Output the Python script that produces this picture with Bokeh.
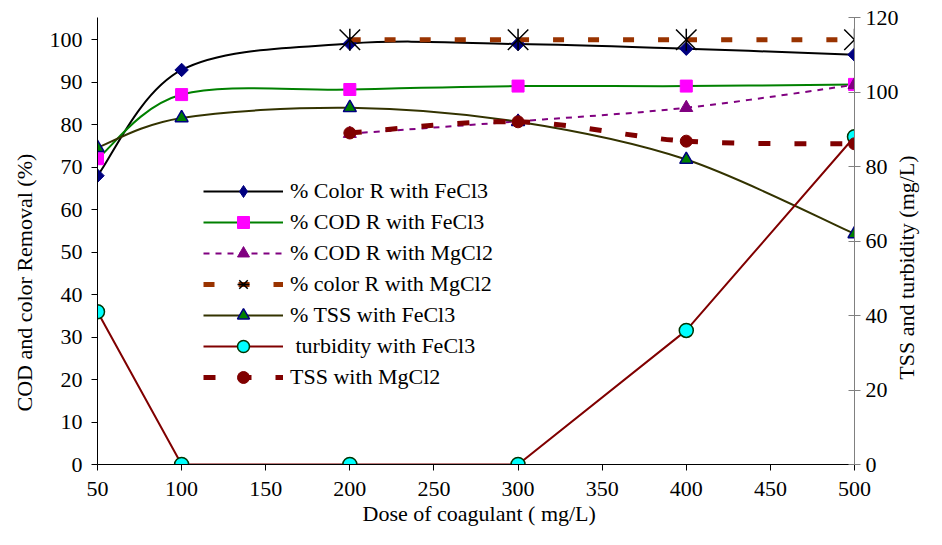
import numpy as np
from bokeh.plotting import figure
from bokeh.models import (Range1d, LinearAxis, FixedTicker, Legend, LegendItem,
                          Title, Label, ColumnDataSource)
from bokeh.embed import file_html
from bokeh.resources import INLINE

# ---------------- data ----------------
dose = [50, 100, 200, 300, 400, 500]
color_r_fecl3 = [68.0, 92.9, 99.1, 99.0, 97.9, 96.5]
cod_r_fecl3 = [72.0, 87.1, 88.3, 89.1, 89.1, 89.5]
tss_pct_fecl3 = [74.6, 81.6, 84.0, 80.7, 71.8, 54.3]
turbidity_fecl3 = [41.0, 0.0, 0.0, 0.0, 36.0, 88.0]          # right axis

dose_mg = [200, 300, 400, 500]
cod_r_mgcl2 = [77.9, 80.8, 84.0, 89.4]
color_r_mgcl2 = [100.0, 100.0, 100.0, 100.0]
tss_mgcl2 = [89.0, 92.0, 86.8, 86.1]                           # right axis

x_ticks = [50, 100, 150, 200, 250, 300, 350, 400, 450, 500]
left_ticks = [0, 10, 20, 30, 40, 50, 60, 70, 80, 90, 100]
right_ticks = [0, 20, 40, 60, 80, 100, 120]

labels = ["% Color R with FeCl3", "% COD R with FeCl3", "% COD R with MgCl2",
          "% color R with MgCl2", "% TSS with FeCl3", " turbidity with FeCl3",
          "TSS with MgCl2"]
x_title = "Dose of coagulant ( mg/L)"
left_title = "COD and color  Removal (%)"
right_title = "TSS and turbidity (mg/L)"

FONT = "'Liberation Serif', 'Times New Roman', serif"
FS = "22px"


def smooth(xs, ys):
    """Bezier segments through the data points (spreadsheet-style smoothing)."""
    n = len(xs)
    P = list(zip(xs, ys))
    d = {k: [] for k in ("x0", "y0", "x1", "y1", "cx0", "cy0", "cx1", "cy1")}
    for i in range(n - 1):
        pm = P[i - 1] if i > 0 else P[i]
        p0, p1 = P[i], P[i + 1]
        p2 = P[i + 2] if i + 2 < n else P[i + 1]
        d["x0"].append(p0[0]); d["y0"].append(p0[1])
        d["x1"].append(p1[0]); d["y1"].append(p1[1])
        d["cx0"].append(p0[0] + (p1[0] - pm[0]) / 6.0)
        d["cy0"].append(p0[1] + (p1[1] - pm[1]) / 6.0)
        d["cx1"].append(p1[0] - (p2[0] - p0[0]) / 6.0)
        d["cy1"].append(p1[1] - (p2[1] - p0[1]) / 6.0)
    return ColumnDataSource(d)


p = figure(width=926, height=529, output_backend="svg", toolbar_location=None,
           x_range=Range1d(50, 500), y_range=Range1d(0, 105.25),
           min_border_left=97, min_border_right=72, min_border_top=17,
           min_border_bottom=65)
p.extra_y_ranges = {"right": Range1d(0, 120)}
p.xgrid.visible = False
p.ygrid.visible = False
p.outline_line_color = None
p.background_fill_color = "white"
p.border_fill_color = "white"

right_axis = LinearAxis(y_range_name="right")
p.add_layout(right_axis, "right")

for ax in (p.xaxis[0], p.yaxis[0], right_axis):
    ax.major_label_text_font = FONT
    ax.major_label_text_font_size = FS
    ax.major_label_text_color = "black"
    ax.minor_tick_line_color = None
    ax.major_tick_out = 6
    ax.major_tick_in = 0
    ax.axis_line_width = 1
    ax.major_tick_line_width = 1

p.xaxis[0].ticker = FixedTicker(ticks=x_ticks)
p.xaxis[0].major_label_standoff = 11
p.xaxis[0].axis_line_color = "black"
p.xaxis[0].major_tick_line_color = "black"

p.yaxis[0].ticker = FixedTicker(ticks=left_ticks)
p.yaxis[0].major_label_standoff = 9
p.yaxis[0].axis_line_color = "black"
p.yaxis[0].major_tick_line_color = "black"

right_axis.ticker = FixedTicker(ticks=right_ticks)
right_axis.major_label_standoff = 5
right_axis.major_tick_in = 6
right_axis.axis_line_color = "#808080"
right_axis.major_tick_line_color = "#808080"

items = []

# 1 % Color R with FeCl3
r1a = p.bezier("x0", "y0", "x1", "y1", "cx0", "cy0", "cx1", "cy1",
               source=smooth(dose, color_r_fecl3), line_color="black", line_width=2)
r1b = p.scatter(dose, color_r_fecl3, marker="square", angle=np.pi / 4, size=9.5,
                fill_color="#000080", line_color="#000080")
r1c = p.scatter(dose, color_r_fecl3, marker="diamond", size=11,
                fill_color="#000080", line_color="#000080")
items.append(LegendItem(label=labels[0], renderers=[r1a, r1c]))

# 2 % COD R with FeCl3
r2a = p.bezier("x0", "y0", "x1", "y1", "cx0", "cy0", "cx1", "cy1",
               source=smooth(dose, cod_r_fecl3), line_color="#008000", line_width=2)
r2b = p.scatter(dose, cod_r_fecl3, marker="square", size=12,
                fill_color="#FF00FF", line_color="#FF00FF")
items.append(LegendItem(label=labels[1], renderers=[r2a, r2b]))

# 3 % COD R with MgCl2
r3a = p.bezier("x0", "y0", "x1", "y1", "cx0", "cy0", "cx1", "cy1",
               source=smooth(dose_mg, cod_r_mgcl2), line_color="#800080", line_width=2,
               line_dash="6 6")
r3b = p.scatter(dose_mg, cod_r_mgcl2, marker="triangle", size=13,
                fill_color="#800080", line_color="#800080")
items.append(LegendItem(label=labels[2], renderers=[r3a, r3b]))

# 4 % color R with MgCl2
r4a = p.bezier("x0", "y0", "x1", "y1", "cx0", "cy0", "cx1", "cy1",
               source=smooth(dose_mg, color_r_mgcl2), line_color="#993300", line_width=5,
               line_dash="11 24")
r4b = p.scatter(dose_mg, color_r_mgcl2, marker="x", size=29,
                line_color="black", line_width=1.5)
r4c = p.scatter(dose_mg, color_r_mgcl2, marker="dash", angle=np.pi / 2, size=22,
                line_color="black", line_width=1.5)
items.append(LegendItem(label=labels[3], renderers=[r4a, r4b, r4c]))

# 5 % TSS with FeCl3
r5a = p.bezier("x0", "y0", "x1", "y1", "cx0", "cy0", "cx1", "cy1",
               source=smooth(dose, tss_pct_fecl3), line_color="#333300", line_width=2)
r5b = p.scatter(dose, tss_pct_fecl3, marker="triangle", size=13,
                fill_color="#008000", line_color="#000080", line_width=1.5)
items.append(LegendItem(label=labels[4], renderers=[r5a, r5b]))

# 6 turbidity with FeCl3 (right axis)
r6a = p.line(dose, turbidity_fecl3, y_range_name="right", line_color="#800000",
             line_width=2)
r6b = p.scatter(dose, turbidity_fecl3, y_range_name="right", marker="circle", size=14,
                fill_color="#00FFFF", line_color="#003300", line_width=1.5)
items.append(LegendItem(label=labels[5], renderers=[r6a, r6b]))

# 7 TSS with MgCl2 (right axis)
r7a = p.bezier("x0", "y0", "x1", "y1", "cx0", "cy0", "cx1", "cy1",
               source=smooth(dose_mg, tss_mgcl2), y_range_name="right",
               line_color="#800000", line_width=5, line_dash="12 24")
r7b = p.scatter(dose_mg, tss_mgcl2, y_range_name="right", marker="circle", size=12,
                fill_color="#800000", line_color="#800000")
items.append(LegendItem(label=labels[6], renderers=[r7a, r7b]))

legend = Legend(items=items, location=(106, 72), padding=0, spacing=1,
                glyph_width=80, glyph_height=30, label_standoff=7,
                border_line_color=None, background_fill_alpha=0,
                label_text_font=FONT, label_text_font_size=FS,
                label_text_color="black")
p.add_layout(legend)

title_style = dict(text_font=FONT, text_font_size=FS, text_font_style="normal",
                   text_color="black", align="left")
p.add_layout(Title(text=left_title, offset=53, standoff=19, **title_style), "left")
p.add_layout(Title(text=x_title, offset=265, standoff=0, **title_style), "below")
p.add_layout(Label(x=5, y=197, x_units="screen", y_units="screen", text=right_title,
                   angle=np.pi / 2, text_align="center", text_baseline="middle",
                   text_font=FONT, text_font_size=FS, text_color="black"), "right")

open("out.html", "w").write(file_html(p, INLINE))
